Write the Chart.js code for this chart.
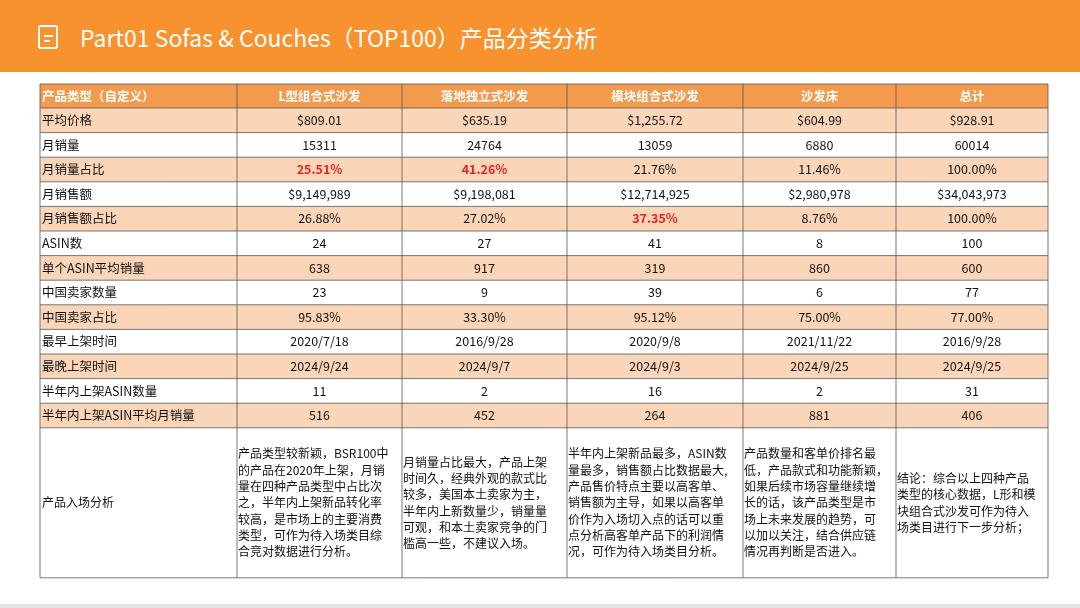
<!DOCTYPE html>
<html><head><meta charset="utf-8">
<script src="https://cdn.jsdelivr.net/npm/chart.js@4/dist/chart.umd.min.js"></script>
<style>
body{margin:0;width:1080px;height:608px;overflow:hidden;background:#fff;font-family:"Noto Sans CJK SC","Noto Sans",sans-serif;position:relative}
#bar{position:absolute;left:0;top:0;width:1080px;height:72px;background:#f7922f}
#bar h1{margin:0;position:absolute;left:80px;top:20px;font-size:23px;font-weight:400;color:#fff;white-space:nowrap}
#icon{position:absolute;left:38px;top:25px;width:20px;height:24px;border:2px solid #fff;border-radius:3px;box-sizing:border-box}
#icon:before,#icon:after{content:"";position:absolute;left:4px;height:2px;background:#fff}
#icon:before{top:8px;width:9px}#icon:after{top:13px;width:6px}
#foot{position:absolute;left:0;top:604px;width:1080px;height:4px;background:#e5e5e5}
canvas{position:absolute;left:0;top:72px}
</style></head><body>
<div id="bar"><div id="icon"></div><h1>Part01 Sofas &amp; Couches（TOP100）产品分类分析</h1></div>
<canvas id="c" width="1080" height="532"></canvas>
<div id="foot"></div>
<script>
// ── Table data ─────────────────────────────────────────────
const headers = ["产品类型（自定义）", "L型组合式沙发", "落地独立式沙发", "模块组合式沙发", "沙发床", "总计"];
const rowLabels = ["平均价格", "月销量", "月销量占比", "月销售额", "月销售额占比", "ASIN数", "单个ASIN平均销量",
  "中国卖家数量", "中国卖家占比", "最早上架时间", "最晚上架时间", "半年内上架ASIN数量", "半年内上架ASIN平均月销量"];
const cells = [
  ["$809.01", "$635.19", "$1,255.72", "$604.99", "$928.91"],
  ["15311", "24764", "13059", "6880", "60014"],
  ["25.51%", "41.26%", "21.76%", "11.46%", "100.00%"],
  ["$9,149,989", "$9,198,081", "$12,714,925", "$2,980,978", "$34,043,973"],
  ["26.88%", "27.02%", "37.35%", "8.76%", "100.00%"],
  ["24", "27", "41", "8", "100"],
  ["638", "917", "319", "860", "600"],
  ["23", "9", "39", "6", "77"],
  ["95.83%", "33.30%", "95.12%", "75.00%", "77.00%"],
  ["2020/7/18", "2016/9/28", "2020/9/8", "2021/11/22", "2016/9/28"],
  ["2024/9/24", "2024/9/7", "2024/9/3", "2024/9/25", "2024/9/25"],
  ["11", "2", "16", "2", "31"],
  ["516", "452", "264", "881", "406"]
];
const highlights = ["2-0", "2-1", "4-2"];
const analysisLabel = "产品入场分析";
const analysis = [
  ["产品类型较新颖，BSR100中", "的产品在2020年上架，月销", "量在四种产品类型中占比次", "之，半年内上架新品转化率", "较高，是市场上的主要消费", "类型，可作为待入场类目综", "合竞对数据进行分析。"],
  ["月销量占比最大，产品上架", "时间久，经典外观的款式比", "较多，美国本土卖家为主，", "半年内上新数量少，销量量", "可观，和本土卖家竞争的门", "槛高一些，不建议入场。"],
  ["半年内上架新品最多，ASIN数", "量最多，销售额占比数据最大,", "产品售价特点主要以高客单、", "销售额为主导，如果以高客单", "价作为入场切入点的话可以重", "点分析高客单产品下的利润情", "况，可作为待入场类目分析。"],
  ["产品数量和客单价排名最", "低，产品款式和功能新颖，", "如果后续市场容量继续增", "长的话，该产品类型是市", "场上未来发展的趋势，可", "以加以关注，结合供应链", "情况再判断是否进入。"],
  ["结论：综合以上四种产品", "类型的核心数据，L形和模", "块组合式沙发可作为待入", "场类目进行下一步分析；"]
];

// ── Layout (canvas coords) ─────────────────────────────────
const colEdges = [40, 237, 402, 567, 743, 896, 1048];
const TOP = 12, HEAD_H = 24, ROW_H = 24.6, LAST_H = 150;
const FONT = '"Noto Sans CJK SC","Noto Sans",sans-serif';

const tablePlugin = {
  id: "table",
  afterDraw(chart) {
    const ctx = chart.ctx;
    ctx.save();
    ctx.textBaseline = "middle";
    // header
    ctx.fillStyle = "#f39a4d";
    ctx.fillRect(colEdges[0], TOP, colEdges[6] - colEdges[0], HEAD_H);
    ctx.font = "bold 12.5px " + FONT;
    ctx.fillStyle = "#fff";
    headers.forEach((h, i) => {
      ctx.textAlign = i === 0 ? "left" : "center";
      const x = i === 0 ? colEdges[0] + 2 : (colEdges[i] + colEdges[i + 1]) / 2;
      ctx.fillText(h, x, TOP + HEAD_H / 2);
    });
    // body rows
    let y = TOP + HEAD_H;
    rowLabels.forEach((lab, r) => {
      ctx.fillStyle = r % 2 === 0 ? "#fbd5b8" : "#ffffff";
      ctx.fillRect(colEdges[0], y, colEdges[6] - colEdges[0], ROW_H);
      ctx.font = "12.5px " + FONT;
      ctx.fillStyle = "#111";
      ctx.textAlign = "left";
      ctx.fillText(lab, colEdges[0] + 2, y + ROW_H / 2);
      cells[r].forEach((v, c) => {
        const hl = highlights.includes(r + "-" + c);
        ctx.font = (hl ? "bold " : "") + "12.5px " + FONT;
        ctx.fillStyle = hl ? "#e8251e" : "#111";
        ctx.textAlign = "center";
        ctx.fillText(v, (colEdges[c + 1] + colEdges[c + 2]) / 2, y + ROW_H / 2);
      });
      y += ROW_H;
    });
    // analysis row
    ctx.fillStyle = "#fff";
    ctx.fillRect(colEdges[0], y, colEdges[6] - colEdges[0], LAST_H);
    ctx.font = "12px " + FONT;
    ctx.fillStyle = "#111";
    ctx.textAlign = "left";
    ctx.fillText(analysisLabel, colEdges[0] + 2, y + LAST_H / 2);
    const LH = 16.3;
    analysis.forEach((lines, c) => {
      const y0 = y + LAST_H / 2 - (lines.length - 1) * LH / 2;
      lines.forEach((ln, k) => ctx.fillText(ln, colEdges[c + 1] + 1, y0 + k * LH));
    });
    const bottom = y + LAST_H;
    // grid lines
    ctx.strokeStyle = "#555";
    ctx.lineWidth = 0.8;
    ctx.beginPath();
    colEdges.forEach((x) => { ctx.moveTo(x, TOP); ctx.lineTo(x, bottom); });
    for (let i = 0; i <= rowLabels.length; i++) {
      const yy = TOP + HEAD_H + i * ROW_H;
      ctx.moveTo(colEdges[0], yy); ctx.lineTo(colEdges[6], yy);
    }
    ctx.moveTo(colEdges[0], TOP); ctx.lineTo(colEdges[6], TOP);
    ctx.moveTo(colEdges[0], bottom); ctx.lineTo(colEdges[6], bottom);
    ctx.stroke();
    ctx.restore();
  }
};

new Chart(document.getElementById("c"), {
  type: "bar",
  data: { labels: headers.slice(1), datasets: [{ data: [], backgroundColor: "transparent" }] },
  options: {
    responsive: false,
    animation: false,
    plugins: { legend: { display: false }, tooltip: { enabled: false } },
    scales: { x: { display: false }, y: { display: false } }
  },
  plugins: [tablePlugin]
});
</script>
</body></html>
